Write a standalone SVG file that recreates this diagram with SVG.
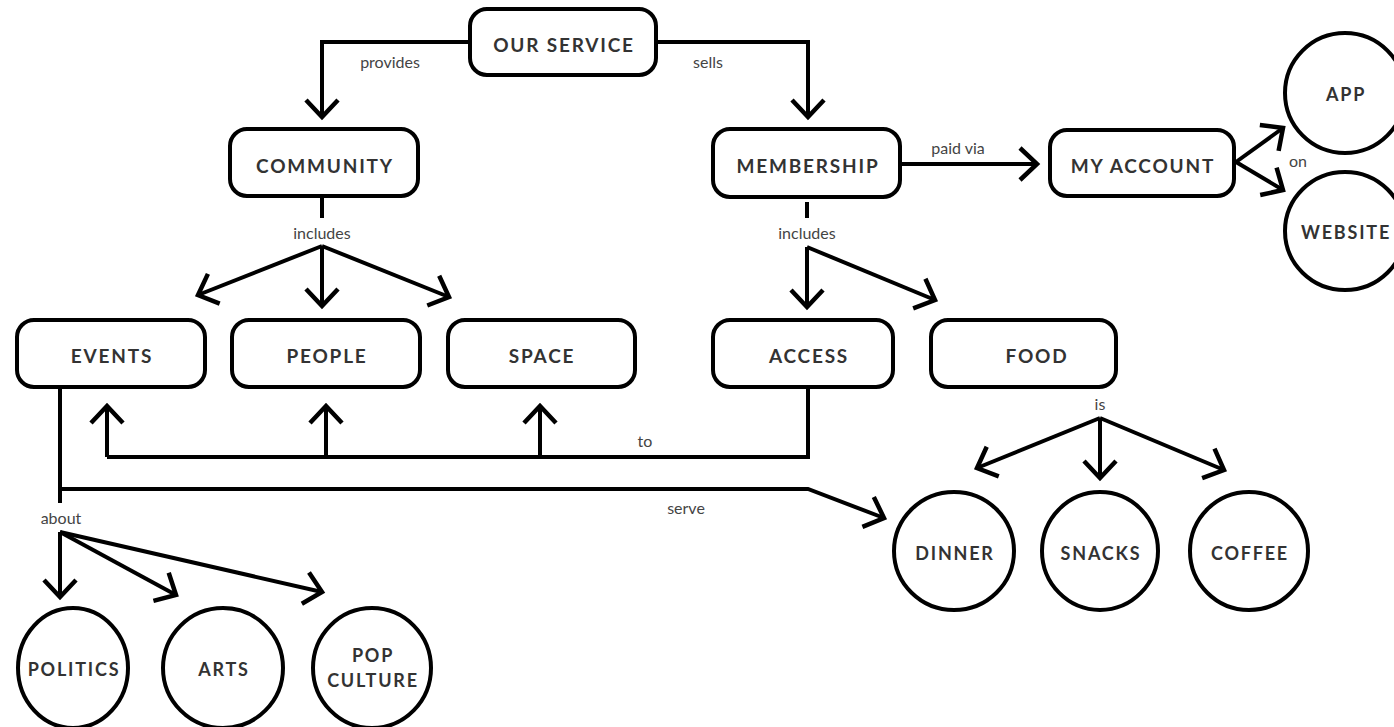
<svg xmlns="http://www.w3.org/2000/svg" width="1394" height="727" viewBox="0 0 1394 727">
<style>
.box{fill:#fff;stroke:#000;stroke-width:4}
.circ{fill:#fff;stroke:#000;stroke-width:4}
.t{font-family:Lato,"Liberation Sans",sans-serif;font-weight:700;font-size:19px;letter-spacing:1.8px;fill:#333;text-anchor:middle;dominant-baseline:central}
.c{font-size:18px;letter-spacing:1.8px}
.lbl{font-family:Lato,"Liberation Sans",sans-serif;font-size:16px;fill:#444;text-anchor:middle;dominant-baseline:central}
.ln{fill:none;stroke:#000;stroke-width:4}
.ar{fill:none;stroke:#000;stroke-width:4;marker-end:url(#arr)}
</style>
<defs>
<marker id="arr" markerUnits="userSpaceOnUse" markerWidth="44" markerHeight="44" viewBox="-24 -22 44 44" refX="0" refY="0" orient="auto">
<path d="M-17,-16 L0,0 L-17,16" fill="none" stroke="#000" stroke-width="4.5" stroke-linejoin="miter"/>
</marker>
</defs>
<rect width="1394" height="727" fill="#fff"/>
<g id="connectors">
<path class="ar" d="M470,42 H322 V117"/>
<path class="ar" d="M656,42 H808 V117"/>
<path class="ln" d="M322,196 V218"/>
<path class="ar" d="M322,246 L198,295"/>
<path class="ar" d="M322,246 V306"/>
<path class="ar" d="M322,246 L449,297"/>
<path class="ln" d="M807,202 V218"/>
<path class="ar" d="M807,247 V307"/>
<path class="ar" d="M807,247 L935,300"/>
<path class="ar" d="M900,164 H1037"/>
<path class="ar" d="M1236,162 L1283,128"/>
<path class="ar" d="M1236,162 L1283,190"/>
<path class="ln" d="M808,387 V457 H107"/>
<path class="ar" d="M107,457 V406"/>
<path class="ar" d="M326,457 V406"/>
<path class="ar" d="M540,457 V406"/>
<path class="ln" d="M60,387 V503"/>
<path class="ar" d="M60,489 H808 L884,518"/>
<path class="ar" d="M60,532 V597"/>
<path class="ar" d="M60,532 L176,595"/>
<path class="ar" d="M60,532 L322,592"/>
<path class="ar" d="M1100,418 L977,468"/>
<path class="ar" d="M1100,418 V478"/>
<path class="ar" d="M1100,418 L1224,470"/>
<text class="lbl" x="390" y="61">provides</text>
<text class="lbl" x="708" y="61">sells</text>
<text class="lbl" x="322" y="232">includes</text>
<text class="lbl" x="807" y="232">includes</text>
<text class="lbl" x="958" y="147">paid via</text>
<text class="lbl" x="1298" y="160">on</text>
<text class="lbl" x="645" y="440">to</text>
<text class="lbl" x="686" y="507">serve</text>
<text class="lbl" x="61" y="517">about</text>
<text class="lbl" x="1100" y="403">is</text>
</g>
<g id="our-service"><rect class="box" x="470" y="9" width="186" height="66" rx="17"/><text class="t" x="564" y="44">OUR SERVICE</text></g>
<g id="community"><rect class="box" x="230" y="129" width="188" height="67" rx="17"/><text class="t" x="325" y="165">COMMUNITY</text></g>
<g id="membership"><rect class="box" x="713" y="129" width="187" height="68" rx="17"/><text class="t" x="808" y="165">MEMBERSHIP</text></g>
<g id="my-account"><rect class="box" x="1050" y="130" width="184" height="66" rx="17"/><text class="t" x="1143" y="165">MY ACCOUNT</text></g>
<g id="app"><ellipse class="circ" cx="1345" cy="93" rx="60" ry="60"/><text class="t c" x="1346" y="94">APP</text></g>
<g id="website"><ellipse class="circ" cx="1345" cy="231" rx="60" ry="59"/><text class="t c" x="1346" y="232">WEBSITE</text></g>
<g id="events"><rect class="box" x="17" y="320" width="188" height="67" rx="17"/><text class="t" x="112" y="355">EVENTS</text></g>
<g id="people"><rect class="box" x="232" y="320" width="188" height="67" rx="17"/><text class="t" x="327" y="355">PEOPLE</text></g>
<g id="space"><rect class="box" x="448" y="320" width="187" height="67" rx="17"/><text class="t" x="542" y="355">SPACE</text></g>
<g id="access"><rect class="box" x="713" y="320" width="180" height="67" rx="17"/><text class="t" x="809" y="355">ACCESS</text></g>
<g id="food"><rect class="box" x="931" y="320" width="185" height="67" rx="17"/><text class="t" x="1037" y="355">FOOD</text></g>
<g id="dinner"><ellipse class="circ" cx="954" cy="551" rx="60" ry="59"/><text class="t c" x="955" y="553">DINNER</text></g>
<g id="snacks"><ellipse class="circ" cx="1100" cy="551" rx="58" ry="59"/><text class="t c" x="1101" y="553">SNACKS</text></g>
<g id="coffee"><ellipse class="circ" cx="1249" cy="551" rx="59" ry="59"/><text class="t c" x="1250" y="553">COFFEE</text></g>
<g id="politics"><ellipse class="circ" cx="73" cy="668" rx="55" ry="60"/><text class="t c" x="74" y="669">POLITICS</text></g>
<g id="arts"><ellipse class="circ" cx="223" cy="668" rx="60" ry="60"/><text class="t c" x="224" y="669">ARTS</text></g>
<g id="pop-culture"><ellipse class="circ" cx="372" cy="668" rx="59" ry="60"/><text class="t c" x="373" y="655">POP</text><text class="t c" x="373" y="680">CULTURE</text></g>
</svg>
